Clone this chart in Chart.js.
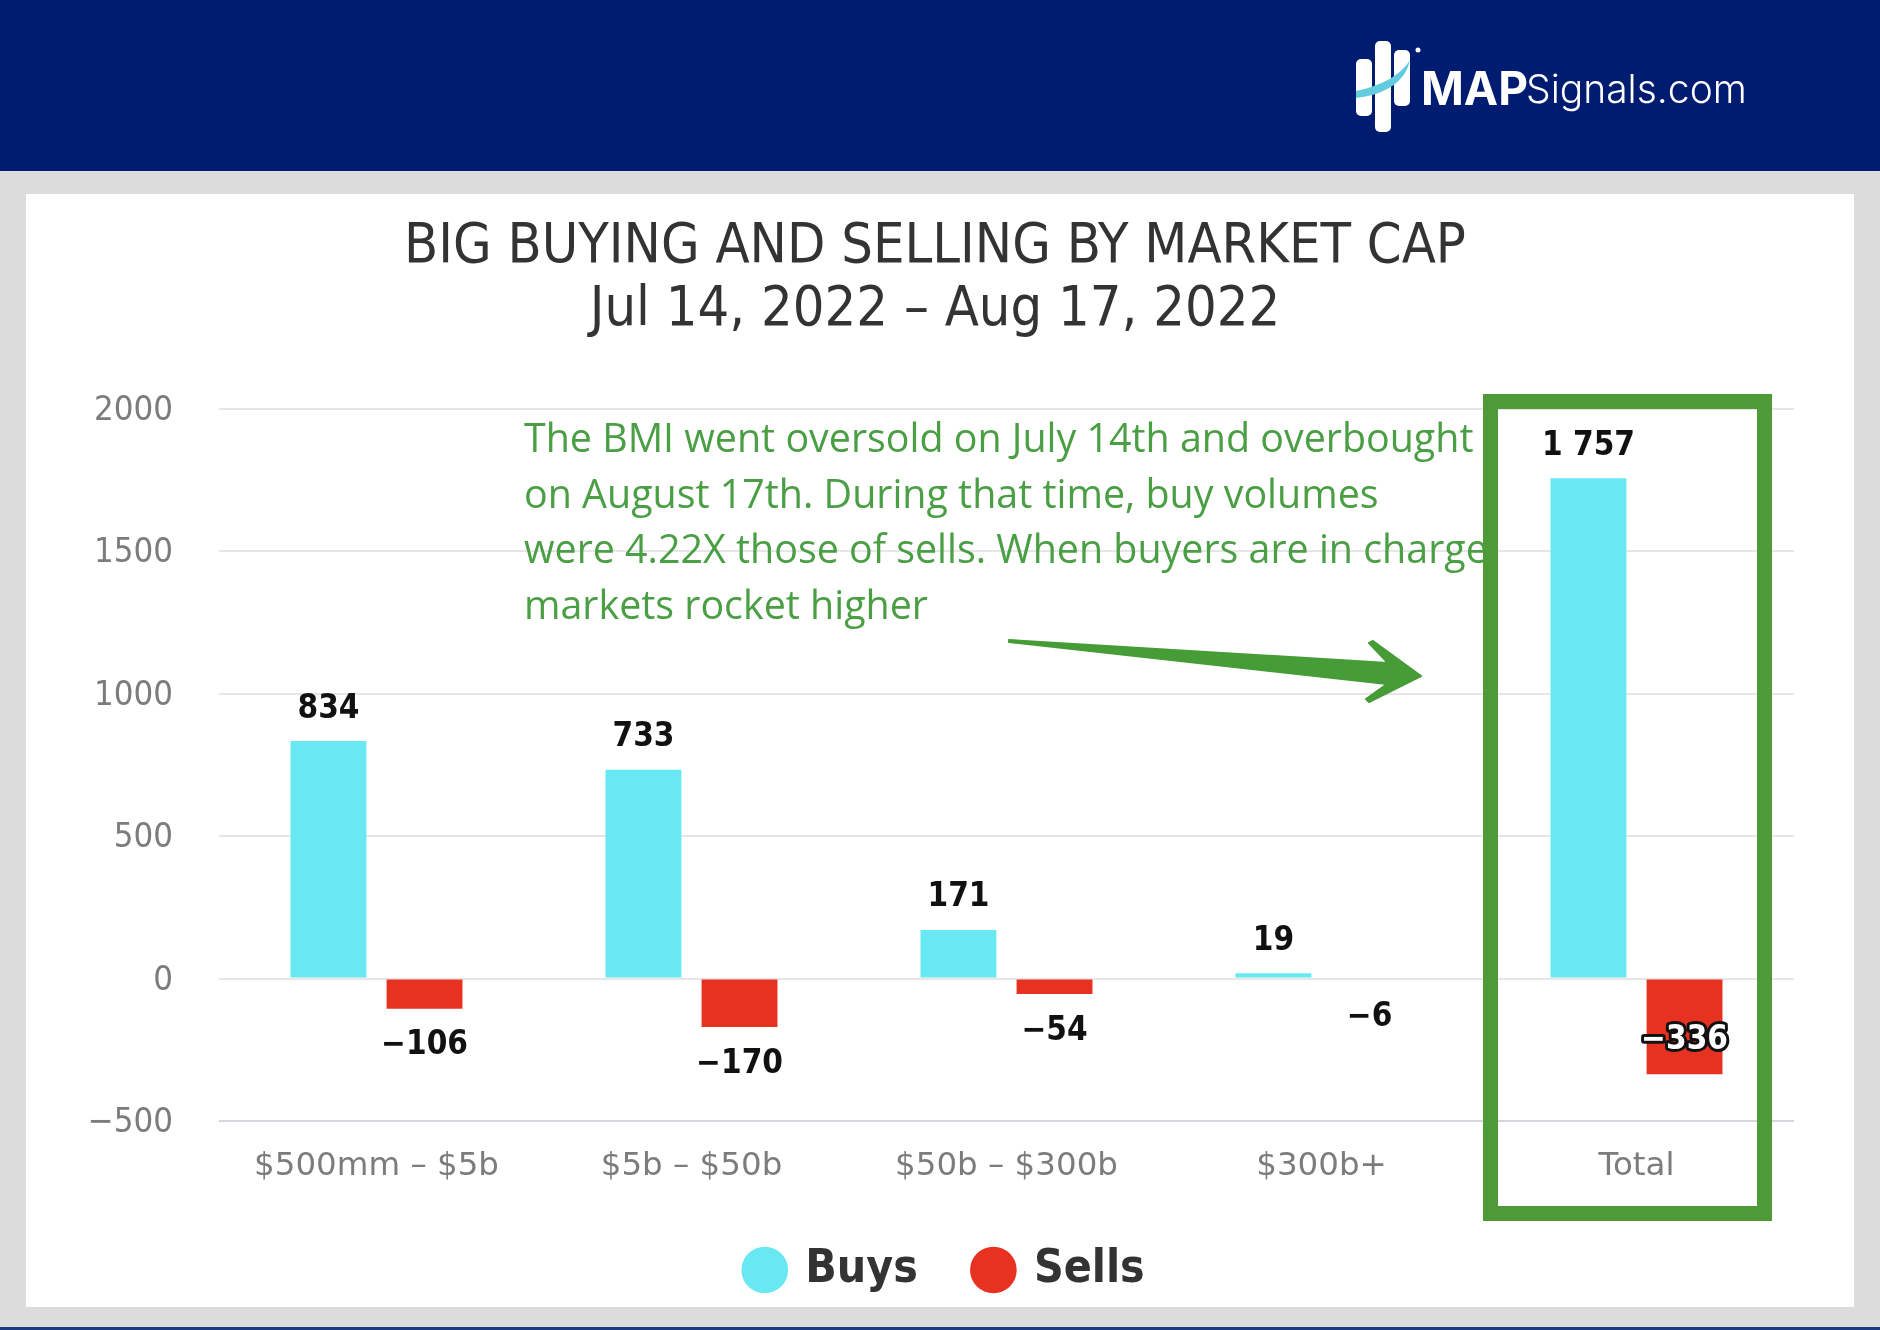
<!DOCTYPE html>
<html>
<head>
<meta charset="utf-8">
<title>Big buying and selling by market cap</title>
<script src="https://cdn.jsdelivr.net/npm/chart.js@4"></script>
<style>
  html, body { margin: 0; padding: 0; }
  body { width: 1880px; height: 1330px; background: #dcdcdc; position: relative; overflow: hidden; font-family: "DejaVu Sans", sans-serif; }
  #header { position: absolute; left: 0; top: 0; width: 1880px; height: 171px; background: #001c70; }
  #footer { position: absolute; left: 0; top: 1327px; width: 1880px; height: 3px; background: #1c3a80; }
  #panel { position: absolute; left: 26px; top: 194px; width: 1828px; height: 1113px; background: #fff; }
  #chart { position: absolute; left: 0; top: 0; }
  #marks { position: absolute; left: 0; top: 0; }
  .logoMap { position: absolute; left: 1421px; top: 60px; font: 700 46px/56px Inter, sans-serif; color: #fff; }
  .logoRest { position: absolute; left: 1526px; top: 61px; font: 300 39px/56px Inter, sans-serif; color: #fff; }
  #note { position: absolute; left: 524px; top: 410px; font: 400 39.4px/55.7px "Open Sans", sans-serif; color: #4a9e44; white-space: pre; }
</style>
</head>
<body>
<div id="header"></div>
<div id="footer"></div>
<div id="panel"></div>
<canvas id="chart" width="1880" height="1330"></canvas>
<div id="note">The BMI went oversold on July 14th and overbought
on August 17th. During that time, buy volumes
were 4.22X those of sells. When buyers are in charge
markets rocket higher</div>
<svg id="marks" width="1880" height="1330">
  <rect x="1490.5" y="401.5" width="274" height="812" fill="none" stroke="#4e9a38" stroke-width="15"/>
  <polygon points="1009,640 1388,663 1369,643 1373,641 1421,676 1369,702 1366,699 1387,684 1009,642" fill="#469c36" stroke="#469c36" stroke-width="2" stroke-linejoin="round"/>
  <rect x="1356" y="59" width="16" height="57" rx="5" fill="#fff"/>
  <rect x="1375" y="41" width="16" height="91" rx="5" fill="#fff"/>
  <rect x="1394" y="50" width="16" height="56" rx="5" fill="#fff"/>
  <circle cx="1418" cy="50" r="2.5" fill="#fff"/>
  <path d="M1356,91 C1380,86 1400,76 1410,60 C1405,84 1382,95 1356,98 Z" fill="#62cbe0"/>
</svg>
<div class="logoMap">MAP</div>
<div class="logoRest">Signals.com</div>

<script>
const categories = ["$500mm \u2013 $5b", "$5b \u2013 $50b", "$50b \u2013 $300b", "$300b+", "Total"];
const buys = [834, 733, 171, 19, 1757];
const sells = [-106, -170, -54, -6, -336];
const yMin = -500;
const yMax = 2000;
const yStep = 500;

const fontName = '"DejaVu Sans Condensed", "DejaVu Sans", sans-serif';

function fmt(v) {
  let s = String(Math.abs(v));
  if (s.length > 3) s = s.slice(0, -3) + " " + s.slice(-3);
  return (v < 0 ? "\u2212" : "") + s;
}

// value labels just past the end of each bar
const barLabels = {
  id: "barLabels",
  afterDatasetsDraw(chart) {
    const ctx = chart.ctx;
    ctx.save();
    ctx.font = "bold 33px " + fontName;
    ctx.textAlign = "center";
    ctx.textBaseline = "middle";
    ctx.lineJoin = "round";
    chart.data.datasets.forEach((ds, i) => {
      chart.getDatasetMeta(i).data.forEach((bar, j) => {
        const v = ds.data[j];
        if (v === -336) {
          // this one doesn't fit under the bar, sits inside it
          ctx.lineWidth = 6;
          ctx.strokeStyle = "#111";
          ctx.strokeText(fmt(v), bar.x, bar.y - 34);
          ctx.fillStyle = "#fff";
          ctx.fillText(fmt(v), bar.x, bar.y - 34);
        } else {
          ctx.fillStyle = "#111";
          ctx.fillText(fmt(v), bar.x, v < 0 ? bar.y + 37 : bar.y - 32);
        }
      });
    });
    ctx.restore();
  }
};

// legend sits higher and further right than where the layout puts it
const legendNudge = {
  id: "legendNudge",
  afterLayout(chart) {
    const l = chart.legend;
    l.left += 11; l.right += 11;
    l.top -= 27; l.bottom -= 27;
  }
};

new Chart(document.getElementById("chart"), {
  type: "bar",
  data: {
    labels: categories,
    datasets: [
      { label: "Buys", data: buys, backgroundColor: "#68e8f2" },
      {
        label: "Sells",
        data: sells,
        // the -6 bar doesn't show up in the original
        backgroundColor: (c) => (c.raw > -10 ? "transparent" : "#e73222")
      }
    ]
  },
  plugins: [barLabels, legendNudge],
  options: {
    responsive: false,
    devicePixelRatio: 1,
    animation: false,
    categoryPercentage: 0.61,
    barPercentage: 0.79,
    layout: { autoPadding: false, padding: { left: 76, right: 86, top: 0, bottom: 0 } },
    plugins: {
      tooltip: { enabled: false },
      title: {
        display: true,
        text: ["BIG BUYING AND SELLING BY MARKET CAP", "Jul 14, 2022 \u2013 Aug 17, 2022"],
        color: "#333",
        font: { family: fontName, size: 55.5, weight: "normal", lineHeight: 63 / 55.5 },
        padding: { top: 216, bottom: 67 }
      },
      legend: {
        position: "bottom",
        labels: {
          usePointStyle: true,
          pointStyle: "circle",
          boxWidth: 35,
          boxHeight: 33,
          padding: 58,
          color: "#333",
          font: { family: fontName, size: 46, weight: "bold" }
        }
      }
    },
    scales: {
      x: {
        afterFit(s) { s.height = 95; },
        grid: { display: false },
        border: { display: false },
        ticks: { color: "#7c7c7c", padding: 18, font: { family: '"DejaVu Sans", sans-serif', size: 32.5 }, maxRotation: 0 }
      },
      y: {
        min: yMin,
        max: yMax,
        afterFit(s) { s.width = 143; },
        grid: { color: (c) => (c.tick.value === yMin ? "#d6d6de" : "#e6e6e6"), lineWidth: 2, drawTicks: false },
        border: { display: false },
        ticks: {
          stepSize: yStep,
          color: "#7c7c7c",
          padding: 46,
          labelOffset: 2,
          font: { family: fontName, size: 34.5 },
          callback: (v) => (v < 0 ? "\u2212" + Math.abs(v) : String(v))
        }
      }
    }
  }
});
</script>
</body>
</html>
